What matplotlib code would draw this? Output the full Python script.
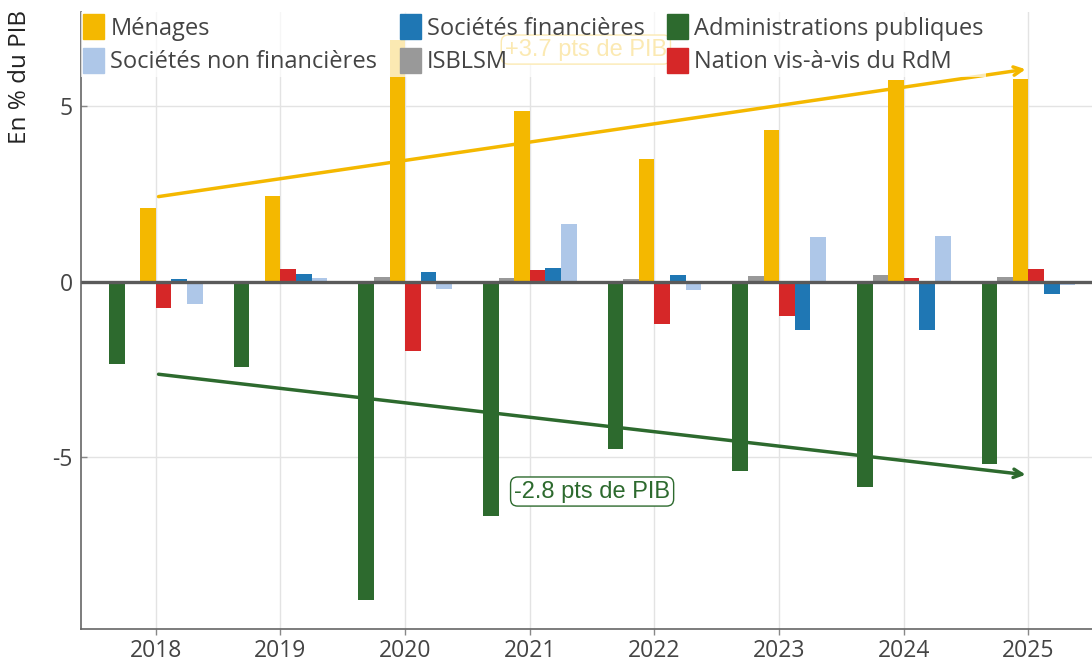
import numpy as np
from matplotlib import pyplot as plt
from matplotlib.patches import Patch

plt.rcParams['font.family'] = ['Open Sans', 'DejaVu Sans']

years = [2018, 2019, 2020, 2021, 2022, 2023, 2024, 2025]

apu = [-2.34, -2.42, -9.06, -6.67, -4.76, -5.38, -5.84, -5.19]
isblsm = [0.02, 0.01, 0.14, 0.11, 0.08, 0.17, 0.20, 0.14]
menages = [2.11, 2.45, 6.90, 4.87, 3.50, 4.33, 5.75, 5.78]
rdm = [-0.73, 0.37, -1.97, 0.34, -1.20, -0.97, 0.11, 0.37]
sf = [0.08, 0.23, 0.28, 0.40, 0.20, -1.37, -1.37, -0.34]
snf = [-0.62, 0.10, -0.19, 1.65, -0.23, 1.28, 1.31, -0.09]

# trend arrows (start / end values)
trend_men = [2.42, 6.07]
trend_apu = [-2.62, -5.50]

c_yel = '#F4B800'
c_grn = '#2D6A2E'
c_blu = '#1F77B4'
c_lbl = '#AEC7E8'
c_gry = '#999999'
c_red = '#D62728'


def plot_chart(fname='out.png'):

    fig = plt.figure(figsize=(10.92, 6.67), dpi=100)
    ax = fig.add_axes([81/1092, 1-629/667, 1-81/1092, (629-12)/667])

    x = np.array(years, dtype=float)
    w = 0.125
    series = [(apu, c_grn), (isblsm, c_gry), (menages, c_yel),
              (rdm, c_red), (sf, c_blu), (snf, c_lbl)]
    for i, (vals, col) in enumerate(series):
        ax.bar(x + (i - 2.5) * w, vals, width=w, color=col, zorder=2)

    ax.set_xlim(2017.4, 2025.51)
    ax.set_ylim(-9.886, 7.69)

    # arrows
    ax.annotate('', xy=(2025, trend_men[1]), xytext=(2018, trend_men[0]),
                arrowprops=dict(arrowstyle='->,head_length=0.6,head_width=0.3',
                                color=c_yel, lw=2.5), zorder=3)
    ax.annotate('', xy=(2025, trend_apu[1]), xytext=(2018, trend_apu[0]),
                arrowprops=dict(arrowstyle='->,head_length=0.6,head_width=0.3',
                                color=c_grn, lw=2.5), zorder=3)

    ax.text(2021.45, 6.62, '+3.7 pts de PIB', color=c_yel, fontsize=17,
            family='Liberation Sans', ha='center', va='center', zorder=3,
            bbox=dict(boxstyle='round,pad=0.15,rounding_size=0.3',
                      fc='white', ec=c_yel, lw=1))
    ax.text(2021.5, -5.97, '-2.8 pts de PIB', color=c_grn, fontsize=17,
            family='Liberation Sans', ha='center', va='center', zorder=3,
            bbox=dict(boxstyle='round,pad=0.15,rounding_size=0.3',
                      fc='white', ec=c_grn, lw=1))

    # axes formatting
    ax.set_xticks(years)
    ax.set_xticklabels([str(y) for y in years])
    ax.set_yticks([-5, 0, 5])
    ax.set_yticklabels(['-5', '0', '5'])
    ax.grid(True, color='#e3e3e3', lw=1, zorder=0)
    ax.axhline(0, color='#5a5a5a', lw=2.4, zorder=2.5)
    for s in ['top', 'right']:
        ax.spines[s].set_visible(False)
    for s in ['left', 'bottom']:
        ax.spines[s].set_color('#666666')
        ax.spines[s].set_linewidth(1.2)
    ax.tick_params(axis='both', colors='#444444', labelsize=16.5,
                   width=1, color='#888888')
    ax.tick_params(axis='x', length=4, pad=3)
    ax.tick_params(axis='y', direction='in', length=4, pad=6)
    ax.set_ylabel('En % du PIB', fontsize=17.5, color='#222222')
    ax.yaxis.set_label_coords(-0.048, 0.894)

    handles = [Patch(color=c_yel), Patch(color=c_lbl), Patch(color=c_blu),
               Patch(color=c_gry), Patch(color=c_grn), Patch(color=c_red)]
    labels = ['Ménages', 'Sociétés non financières', 'Sociétés financières',
              'ISBLSM', 'Administrations publiques', 'Nation vis-à-vis du RdM']
    leg = ax.legend(handles, labels, ncol=3, loc='upper left',
                    bbox_to_anchor=(0.0, 1.0), fontsize=17,
                    labelcolor='#444444', frameon=True, framealpha=0.7,
                    edgecolor='none', fancybox=False, handlelength=0.89,
                    handleheight=1.23, handletextpad=0.25, columnspacing=0.95,
                    labelspacing=0.32, borderpad=0.1, borderaxespad=0.0)
    leg.set_zorder(5)

    fig.savefig(fname, dpi=100)


plot_chart()
